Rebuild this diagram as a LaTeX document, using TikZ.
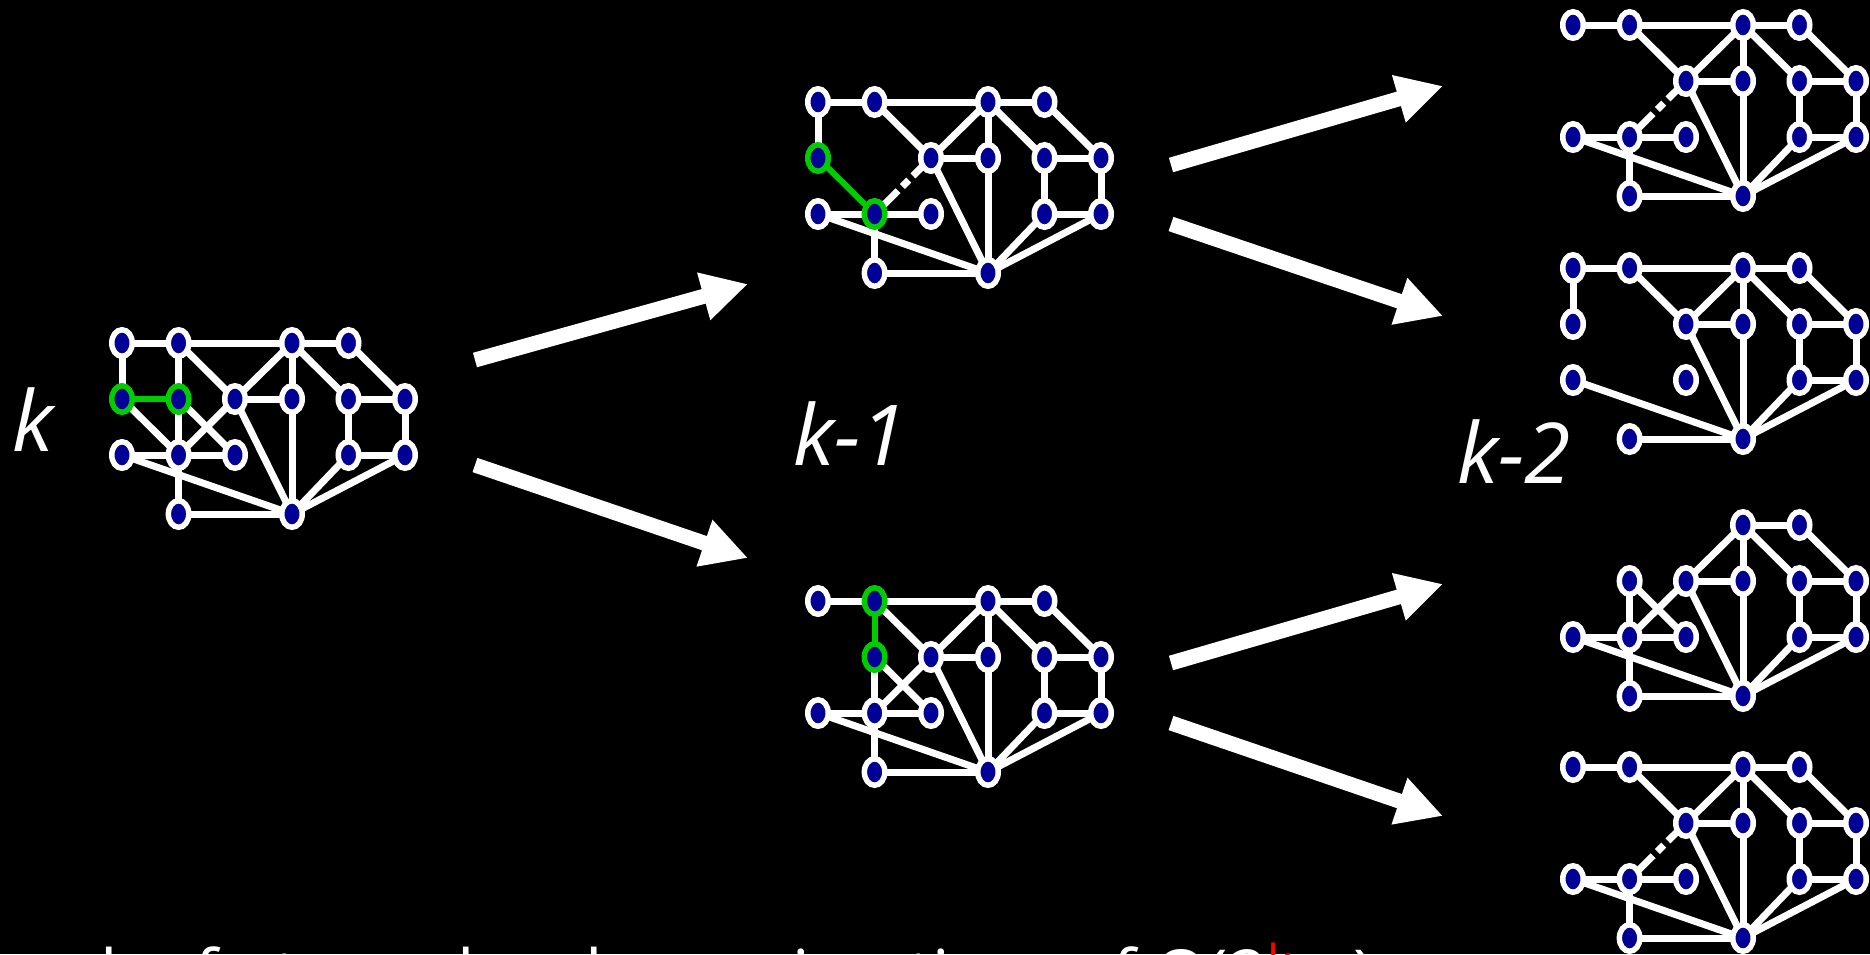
\documentclass[tikz,border=0pt]{standalone}
\usepackage{fontspec}
\setmainfont{Open Sans}
\usetikzlibrary{arrows.meta,shapes.geometric}
\definecolor{vblue}{RGB}{0,0,150}
\definecolor{hotgreen}{RGB}{0,204,0}
\pgfdeclarelayer{backdrop}
\pgfdeclarelayer{edgelayer}
\pgfsetlayers{backdrop,edgelayer,main}
\tikzset{
  vtx/.style={ellipse, fill=vblue, line width=5.5pt, minimum width=20.5pt,
              minimum height=26.5pt, inner sep=0pt, outer sep=0pt},
  edge/.style={draw=white, line width=7pt},
  hotedge/.style={draw=hotgreen, line width=6pt},
  brokenedge/.style={edge, dash pattern=on 14pt off 6pt on 9pt off 6pt on 60pt},
  bigarrow/.style={draw=white, line width=15pt, -{Triangle[length=46pt,width=46pt]}},
  levellabel/.style={text=white, font=\fontsize{84}{84}\selectfont\itshape,
                     inner sep=0pt, anchor=base west},
}
% vertices: name/x/y/ring colour, relative to the graph origin
\newcommand\vertices[1]{\foreach \n/\x/\y/\c in {#1}{\node[vtx, draw=\c] (\n) at (\x,\y) {};}}
% edges: list of name pairs, drawn below the vertices
\newcommand\edgelist[2][edge]{\begin{pgfonlayer}{edgelayer}\foreach \a/\b in {#2}{\draw[#1] (\a) -- (\b);}\end{pgfonlayer}}
% the part of the graph that every instance shares
\newcommand\corevertices{\vertices{C/170/0/white, D/226.5/0/white, G/113/56/white,
  H/170/56/white, I/226.5/56/white, J/283/56/white, K/0/112/white, M/113/112/white,
  N/226.5/112/white, O/283/112/white, P/56.6/171/white, Q/170/171/white}}
\newcommand\coreedges{\edgelist{C/D, C/G, C/H, C/I, D/J, G/H, I/J, I/N, J/O, N/O,
  K/Q, P/Q, G/Q, H/Q, N/Q, O/Q}}
\begin{document}
\begin{tikzpicture}[x=1pt, y=-1pt]
\begin{pgfonlayer}{backdrop}
  \fill[black] (0,0) rectangle (1870,954);
\end{pgfonlayer}
\useasboundingbox (0,0) rectangle (1870,954);

% ---- level k ----
\begin{scope}[shift={(122,343)}, name prefix=g0-]
  \corevertices
  \vertices{A/0/0/white, B/56.6/0/white, E/0/56/hotgreen, F/56.6/56/hotgreen, L/56.6/112/white}
  \coreedges
  \edgelist{A/B, B/C, B/G, A/E, B/F, E/L, F/L, F/M, G/L, K/L, L/M, L/P}
  \edgelist[hotedge]{E/F}
\end{scope}

% ---- level k-1, upper ----
\begin{scope}[shift={(818,102)}, name prefix=g1-]
  \corevertices
  \vertices{A/0/0/white, B/56.6/0/white, E/0/56/hotgreen, L/56.6/112/hotgreen}
  \coreedges
  \edgelist{A/B, B/C, B/G, A/E, K/L, L/M, L/P}
  \edgelist[brokenedge]{G/L}
  \edgelist[hotedge]{E/L}
\end{scope}

% ---- level k-1, lower ----
\begin{scope}[shift={(818,601)}, name prefix=g2-]
  \corevertices
  \vertices{A/0/0/white, B/56.6/0/hotgreen, F/56.6/56/hotgreen, L/56.6/112/white}
  \coreedges
  \edgelist{A/B, B/C, B/G, F/L, F/M, G/L, K/L, L/M, L/P}
  \edgelist[hotedge]{B/F}
\end{scope}

% ---- level k-2 ----
\begin{scope}[shift={(1573,25)}, name prefix=g3-]
  \corevertices
  \vertices{A/0/0/white, B/56.6/0/white, L/56.6/112/white}
  \coreedges
  \edgelist{A/B, B/C, B/G, K/L, L/M, L/P}
  \edgelist[brokenedge]{G/L}
\end{scope}

\begin{scope}[shift={(1573,268)}, name prefix=g4-]
  \corevertices
  \vertices{A/0/0/white, B/56.6/0/white, E/0/56/white}
  \coreedges
  \edgelist{A/B, B/C, B/G, A/E}
\end{scope}

\begin{scope}[shift={(1573,525)}, name prefix=g5-]
  \corevertices
  \vertices{F/56.6/56/white, L/56.6/112/white}
  \coreedges
  \edgelist{F/L, F/M, G/L, K/L, L/M, L/P}
\end{scope}

\begin{scope}[shift={(1573,767)}, name prefix=g6-]
  \corevertices
  \vertices{A/0/0/white, B/56.6/0/white, L/56.6/112/white}
  \coreedges
  \edgelist{A/B, B/C, B/G, K/L, L/M, L/P}
  \edgelist[brokenedge]{G/L}
\end{scope}

% ---- branching arrows ----
\coordinate (a1s) at (475,360);  \coordinate (a1e) at (748,284);
\coordinate (a2s) at (475,465);  \coordinate (a2e) at (748,558);
\coordinate (a3s) at (1171,165); \coordinate (a3e) at (1443,86);
\coordinate (a4s) at (1171,224); \coordinate (a4e) at (1443,316);
\coordinate (a5s) at (1171,663); \coordinate (a5e) at (1443,584);
\coordinate (a6s) at (1171,723); \coordinate (a6e) at (1443,816);
\foreach \i in {1,...,6} \draw[bigarrow] (a\i s) -- (a\i e);

% ---- level labels ----
\node[levellabel] (lk)  at (12,451)   {k};
\node[levellabel] (lk1) at (793,465)  {k-1};
\node[levellabel] (lk2) at (1457,483) {k-2};

% ---- summary line, running off the lower edge ----
\begin{scope}
\clip (0,0) rectangle (1870,954);
\node[anchor=base west, inner sep=0pt, text=white, font=\fontsize{69}{69}\selectfont]
  (summary) at (100,999)
  {leaf at one level, running time of O(2\raisebox{20pt}{\fontsize{48}{48}\selectfont\color{red}k} n)};
\end{scope}
\end{tikzpicture}
\end{document}
